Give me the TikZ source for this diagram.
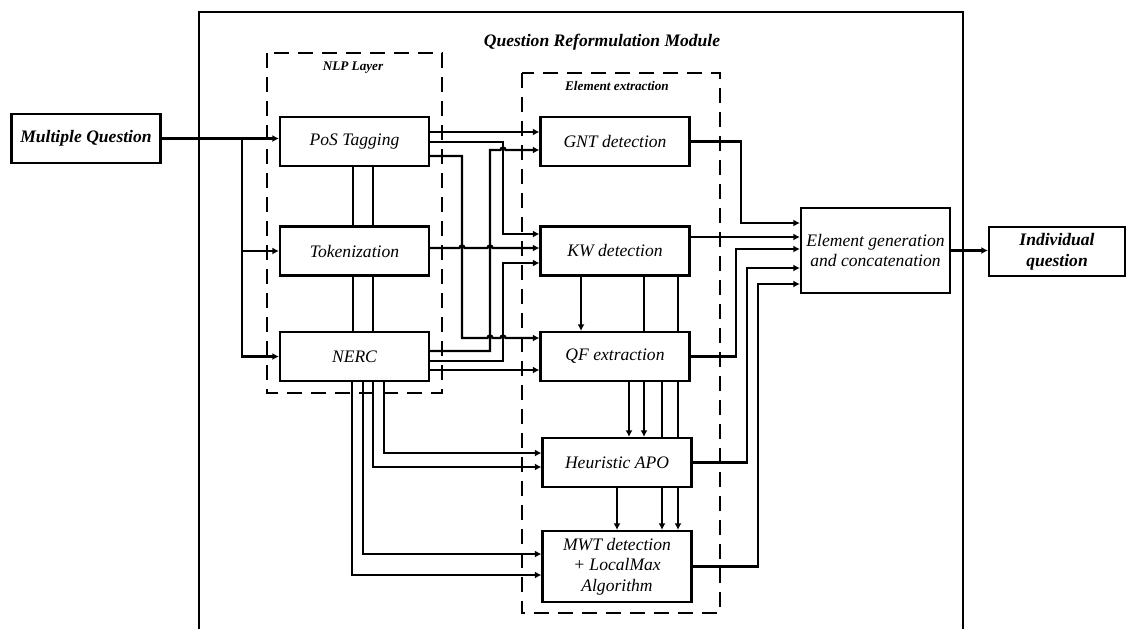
\documentclass[tikz,border=0pt]{standalone}
\usepackage{fontspec}
\setmainfont{Liberation Serif}
\usepackage{tikz}
\usetikzlibrary{arrows.meta}

\begin{document}
\begin{tikzpicture}[x=0.2mm, y=-0.2mm, line width=1.3pt,
			>={Latex[length=1.3mm,width=1.4mm]},
			block/.style={draw, fill=white, inner sep=1pt, align=center,
				font=\fontsize{10}{11.8}\selectfont\itshape,
				minimum width=29.8mm, minimum height=9.8mm},
			boldblock/.style={block, font=\fontsize{10}{11.8}\selectfont\bfseries\itshape},
			layer/.style={draw, dash pattern=on 3mm off 1.8mm, line width=1.5pt},
			caption/.style={font=\fontsize{7.5}{9}\selectfont\bfseries\itshape}]
\useasboundingbox (0,0) rectangle (1126,628);

% module frame, open at the bottom
\draw (199,632) |- (963,12) -- (963,632);
\node[font=\fontsize{10}{12}\selectfont\bfseries\itshape] (title) at (602,42) {Question Reformulation Module};

% the two dashed layers
\draw[layer] (267,53) rectangle (442,393);
\node[caption] (nlpcap) at (353,68) {NLP Layer};
\draw[layer] (522,73) rectangle (720,613);
\node[caption] (extcap) at (617,86) {Element extraction};

% blocks
\node[boldblock] (multi) at (86,138.5) {Multiple Question};
\node[block] (pos) at (354.5,141.5) {PoS Tagging};
\node[block] (tok) at (354.5,251) {Tokenization};
\node[block] (nerc) at (354.5,356.5) {NERC};
\node[block] (gnt) at (615,141.5) {GNT detection};
\node[block] (kw) at (615,251) {KW detection};
\node[block] (qf) at (615,356.5) {QF extraction};
\node[block] (heu) at (617,462.5) {Heuristic APO};
\node[block, minimum height=14.2mm] (mwt) at (617,566.5) {MWT detection\\+ LocalMax\\Algorithm};
\node[block, minimum height=17mm] (gen) at (875.5,250.5) {Element generation\\and concatenation};
\node[boldblock, minimum width=27.2mm] (indiv) at (1057,251.5) {Individual\\question};

% input fan-out
\coordinate (fork) at (242,138.5);
\draw[->] (multi.east) -- (pos.west |- multi.east);
\draw[->] (fork) |- (tok.west);
\draw[->] (fork) |- (nerc.west);

% links inside the NLP layer
\draw (pos.south -| 353,0) -- (tok.north -| 353,0);
\draw (pos.south -| 373,0) -- (tok.north -| 373,0);
\draw (tok.south -| 353,0) -- (nerc.north -| 353,0);
\draw (tok.south -| 373,0) -- (nerc.north -| 373,0);

% NLP layer -> element extraction
\draw[->] (pos.east |- 0,132) -- (gnt.west |- 0,132);
\draw[->] (pos.east |- 0,142) -| (503,234) -- (kw.west |- 0,234);
\draw[->] (pos.east |- 0,156) -| (462,338) -- (487.5,338)
	arc[start angle=180, end angle=360, radius=2.5] -- (500.5,338)
	arc[start angle=180, end angle=360, radius=2.5] -- (qf.west |- 0,338);
\draw[->] (tok.east |- 0,248) -- (459.5,248)
	arc[start angle=180, end angle=360, radius=2.5] -- (487.5,248)
	arc[start angle=180, end angle=360, radius=2.5] -- (kw.west |- 0,248);
\draw[->] (nerc.east |- 0,351) -| (490,150) -- (500.5,150)
	arc[start angle=180, end angle=360, radius=2.5] -- (gnt.west |- 0,150);
\draw[->] (nerc.east |- 0,361) -| (503,263) -- (kw.west |- 0,263);
\draw[->] (nerc.east |- 0,370) -- (qf.west |- 0,370);

% NERC straight down to the lower blocks
\draw[->] (nerc.south -| 384,0) |- (heu.west |- 0,453);
\draw[->] (nerc.south -| 373,0) |- (heu.west |- 0,467);
\draw[->] (nerc.south -| 363,0) |- (mwt.west |- 0,554);
\draw[->] (nerc.south -| 352,0) |- (mwt.west |- 0,575);

% chain inside element extraction
\draw[->] (kw.south -| 581,0) -- (qf.north -| 581,0);
\draw (kw.south -| 644,0) -- (qf.north -| 644,0);
\draw[->] (qf.south -| 644,0) -- (heu.north -| 644,0);
\draw (kw.south -| 678,0) -- (qf.north -| 678,0);
\draw (qf.south -| 678,0) -- (heu.north -| 678,0);
\draw[->] (heu.south -| 678,0) -- (mwt.north -| 678,0);
\draw[->] (qf.south -| 629,0) -- (heu.north -| 629,0);
\draw (qf.south -| 662,0) -- (heu.north -| 662,0);
\draw[->] (heu.south -| 662,0) -- (mwt.north -| 662,0);
\draw[->] (heu.south -| 617,0) -- (mwt.north -| 617,0);

% everything into the generator
\draw[->] (gnt.east) -| (741,223) -- (gen.west |- 0,223);
\draw[->] (kw.east |- 0,237) -- (gen.west |- 0,237);
\draw[->] (qf.east) -| (736,249) -- (gen.west |- 0,249);
\draw[->] (heu.east) -| (747,268) -- (gen.west |- 0,268);
\draw[->] (mwt.east) -| (758,284) -- (gen.west |- 0,284);
\draw[->] (gen.east) -- (indiv.west |- gen.east);

\end{tikzpicture}
\end{document}
